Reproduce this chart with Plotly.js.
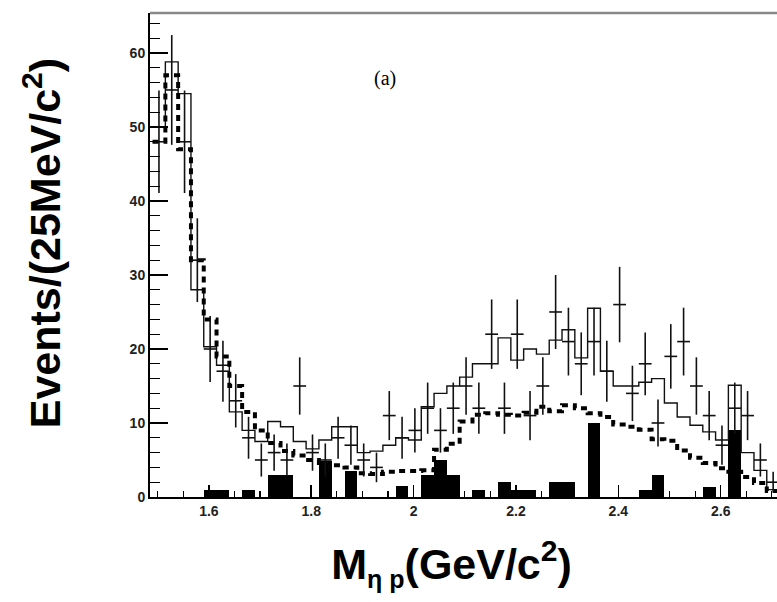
<!DOCTYPE html>
<html>
<head>
<meta charset="utf-8">
<script src="https://cdn.plot.ly/plotly-3.0.1.min.js"></script>
<style>
  html, body { margin: 0; padding: 0; background: #fff; overflow: hidden; }
  #chart { width: 777px; height: 602px; }
</style>
</head>
<body>
<div id="chart"></div>
<script>
// Bin centres of the 25 MeV/c^2 bins (GeV/c^2)
const binCenters = [1.5025, 1.5275, 1.5525, 1.5775, 1.6025, 1.6275, 1.6525, 1.6775, 1.7025, 1.7275,
                    1.7525, 1.7775, 1.8025, 1.8275, 1.8525, 1.8775, 1.9025, 1.9275, 1.9525, 1.9775,
                    2.0025, 2.0275, 2.0525, 2.0775, 2.1025, 2.1275, 2.1525, 2.1775, 2.2025, 2.2275,
                    2.2525, 2.2775, 2.3025, 2.3275, 2.3525, 2.3775, 2.4025, 2.4275, 2.4525, 2.4775,
                    2.5025, 2.5275, 2.5525, 2.5775, 2.6025, 2.6275, 2.6525, 2.6775, 2.7025];
const binWidth = 0.025;

// Data (events per bin)
const dataCounts = [48, 55, 48, 32, 20, 17, 13, 8, 5, 6,
                    5, 15, 6, 5, 8, 7, 5, 4, 11, 8,
                    9, 12, 9, 12, 15, 12, 22, 12, 22, 11,
                    15, 25, 21, 18, 21, 17, 26, 14, 18, 10,
                    19, 21, 15, 11, 7, 12, 11, 5, 2];

// Total fit / MC (solid histogram)
const fitTotal = [50, 58.8, 54.5, 28, 20.3, 17.8, 11.5, 9, 7.5, 10.2,
                  9.5, 7.5, 6.5, 7.7, 9.5, 9.5, 6, 6.2, 7, 8,
                  7.7, 12.2, 14, 15, 16.2, 18, 18, 21.5, 18.5, 20,
                  19.3, 21.2, 22.6, 18.8, 25.5, 17, 15, 15, 15.5, 16,
                  12.7, 10.8, 9.7, 8.8, 7.7, 15.1, 6, 3.6, 1];

// Component (dashed histogram)
const component = [48, 57, 47, 32, 24, 19, 15, 11.5, 9, 7.3,
                   6.2, 5.6, 5, 4.6, 4.3, 4, 3.2, 3.1, 3.4, 3.5,
                   3.5, 3.6, 6.4, 7.2, 10.2, 11.1, 11.3, 11.1, 11, 11.4,
                   12.2, 11.6, 12.4, 12, 11.3, 10.8, 9.8, 9.5, 9.1, 7.8,
                   7.6, 6.3, 5.3, 4.6, 3.9, 3.4, 2.7, 1.9, 0.8];

// Background (black filled histogram)
const background = [0, 0, 0, 0, 1, 1, 0, 1, 0, 3,
                    3, 0, 0, 4.8, 0, 3.5, 0, 0, 0, 1.5,
                    0, 3, 5, 3, 0, 1, 0, 2, 1, 1,
                    0, 2, 2, 0, 10, 0, 0, 0, 1, 3,
                    0, 0, 0, 1.4, 0, 9, 0, 0, 0];

const xTitle = '<b>M<sub><span style="font-size:25px">η p</span></sub>(GeV/c<sup>2</sup>)\u00a0\u00a0</b>';
const yTitle = '<b>\u00a0\u00a0Events/(25MeV/c<sup>2</sup>)</b>';
const panelLabel = '(a)';

function stepXY(vals) {
  const xs = [binCenters[0] - binWidth / 2].concat(binCenters, [binCenters[binCenters.length - 1] + binWidth / 2]);
  const ys = [vals[0]].concat(vals, [vals[vals.length - 1]]);
  return {x: xs, y: ys};
}

const sFit = stepXY(fitTotal);
const sComp = stepXY(component);

const traces = [
  {
    type: 'bar', x: binCenters, y: background, width: binWidth,
    marker: {color: '#000', line: {width: 0}}, showlegend: false, hoverinfo: 'skip'
  },
  {
    type: 'scatter', mode: 'lines', x: sFit.x, y: sFit.y,
    line: {shape: 'hvh', color: '#111', width: 1.4}, showlegend: false
  },
  {
    type: 'scatter', mode: 'lines', x: sComp.x, y: sComp.y,
    line: {shape: 'hvh', color: '#000', width: 4, dash: '6px,5px'}, showlegend: false
  },
  {
    type: 'scatter', mode: 'markers', x: binCenters, y: dataCounts,
    marker: {size: 1, color: '#111'},
    error_y: {type: 'data', array: dataCounts.map(v => Math.sqrt(v)), width: 0, thickness: 1.6, color: '#111'},
    error_x: {type: 'constant', value: binWidth / 2, width: 0, thickness: 1.6, color: '#111'},
    showlegend: false
  }
];

const tickFont = {family: 'Liberation Sans, Arial, sans-serif', size: 14, color: '#222', weight: 'bold'};
const titleFont = {family: 'Liberation Sans, Arial, sans-serif', size: 43, color: '#000'};

const layout = {
  width: 777, height: 602,
  margin: {l: 150, r: 0, t: 13, b: 105},
  paper_bgcolor: '#fff', plot_bgcolor: '#fff',
  showlegend: false,
  bargap: 0,
  font: {family: 'Liberation Sans, Arial, sans-serif', color: '#000'},
  xaxis: {
    range: [1.485, 2.71], tick0: 0, dtick: 0.2,
    ticks: 'inside', ticklen: 12, tickwidth: 1.5, tickcolor: '#000',
    minor: {ticks: 'inside', ticklen: 6, dtick: 0.05, tickwidth: 1.2, tickcolor: '#000'},
    showline: true, linewidth: 2, linecolor: '#000',
    showgrid: false, zeroline: false,
    tickfont: tickFont,
    title: {text: xTitle, font: titleFont, standoff: 31}
  },
  yaxis: {
    range: [0, 65.4], tick0: 0, dtick: 10,
    ticks: 'inside', ticklen: 18, tickwidth: 1.5, tickcolor: '#000',
    minor: {ticks: 'inside', ticklen: 10, dtick: 2, tickwidth: 1.2, tickcolor: '#000'},
    showline: true, linewidth: 2, linecolor: '#000',
    showgrid: false, zeroline: false,
    tickfont: tickFont,
    title: {text: yTitle, font: titleFont, standoff: 56}
  },
  shapes: [
    {type: 'line', xref: 'paper', yref: 'paper', x0: 0, x1: 1, y0: 1, y1: 1,
     line: {color: '#888', width: 2.5}}
  ],
  annotations: [
    {text: panelLabel, x: 1.9435, y: 56.6, xref: 'x', yref: 'y', showarrow: false,
     font: {family: 'Liberation Serif, Times New Roman, serif', size: 20, color: '#000'}}
  ]
};

Plotly.newPlot('chart', traces, layout, {displayModeBar: false, staticPlot: true});
</script>
</body>
</html>
